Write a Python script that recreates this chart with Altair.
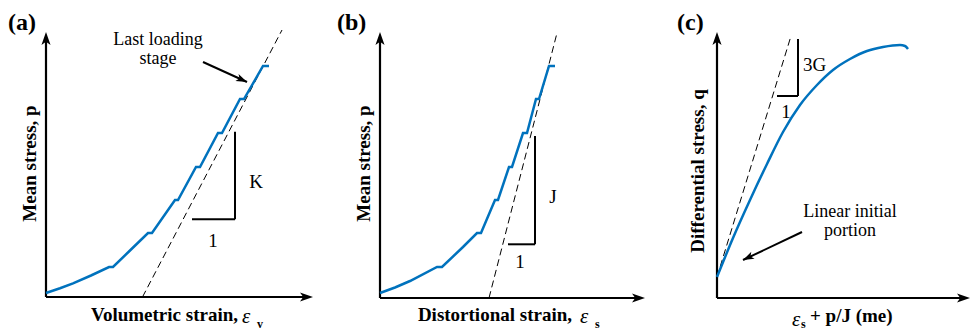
import altair as alt
import pandas as pd

FONT = "Liberation Serif"
BLUE = "#0072BD"
H = 332

# ---------------- Panel (a): mean stress vs volumetric strain ----------------
a_strain = [0, 14, 27, 45, 63, 67, 84, 102, 106, 129, 132, 150, 154, 172, 176, 194, 198, 217, 223]
a_stress = [4, 8.8, 13.7, 21.5, 30, 30, 46.5, 64, 64, 97, 97, 130, 130, 164, 164, 198, 198, 231, 231]
a_tangent_strain = [96.5, 236]
a_tangent_stress = [0, 267]
a_tri_x = [146, 189, 189]
a_tri_y = [77.7, 77.7, 165.3]
a_arrow_x = [157, 201]
a_arrow_y = [235, 215]

# ---------------- Panel (b): mean stress vs distortional strain ----------------
b_strain = [0, 15, 30, 57, 62, 83, 97, 101, 115, 118, 129, 132, 143, 147, 156, 159, 169, 175]
b_stress = [5, 10.5, 17, 31, 31, 51, 65, 65, 98, 98, 131, 131, 165, 165, 199, 199, 232, 232]
b_tangent_strain = [109, 177]
b_tangent_stress = [0, 265]
b_tri_x = [128, 155, 155]
b_tri_y = [53.7, 53.7, 162]

# ---------------- Panel (c): differential stress vs eps_s + p/J ----------------
c_strain = [0, 16, 33, 50, 66, 83, 100, 116, 133, 150, 166, 183, 188, 191]
c_stress = [21, 60, 98, 134, 166, 193, 213, 228, 239, 247, 251, 253, 252, 249]
c_tangent_strain = [0, 74]
c_tangent_stress = [21, 262]
c_tri_x = [60, 81, 81]
c_tri_y = [202, 202, 259]
c_arrow_x = [85, 26]
c_arrow_y = [66, 38]

UP = "M0,0 L0.7,2 L0,1.5 L-0.7,2 Z"
RIGHT = "M0,0 L-2,-0.7 L-1.5,0 L-2,0.7 Z"

STYLES = {
    "tag": dict(fontSize=24, fontWeight="bold", align="left", baseline="middle"),
    "ylab": dict(fontSize=19, fontWeight="bold", angle=270, align="center", baseline="middle"),
    "xlab": dict(fontSize=19, fontWeight="bold", align="right", baseline="alphabetic"),
    "xlab_left": dict(fontSize=19, fontWeight="bold", align="left", baseline="alphabetic"),
    "eps": dict(fontSize=21, fontStyle="italic", align="left", baseline="alphabetic"),
    "sub": dict(fontSize=12, fontWeight="bold", align="left", baseline="bottom"),
    "note": dict(fontSize=18, align="center", baseline="alphabetic", lineBreak="\n", lineHeight=19),
    "slope": dict(fontSize=19, align="center", baseline="middle"),
    "slope_left": dict(fontSize=19, align="left", baseline="middle"),
}

panels = [
    dict(width=320, ox=46, oy=297, xlen=267, ylen=265,
         cx=a_strain, cy=a_stress, interp="linear",
         tx=a_tangent_strain, ty=a_tangent_stress, trx=a_tri_x, try_=a_tri_y,
         arrow=(a_arrow_x, a_arrow_y, 24.4),
         texts=[("(a)", -38, 274.5, "tag"),
                ("Mean stress, p", -16, 133.5, "ylab"),
                ("Volumetric strain,", 192, -24, "xlab"),
                ("ε", 196, -25.5, "eps"),
                ("v", 211, -34, "sub"),
                ("Last loading\nstage", 112, 252, "note"),
                ("K", 210, 115, "slope"),
                ("1", 167, 56, "slope")]),
    dict(width=330, ox=60, oy=298, xlen=265, ylen=266,
         cx=b_strain, cy=b_stress, interp="linear",
         tx=b_tangent_strain, ty=b_tangent_stress, trx=b_tri_x, try_=b_tri_y,
         arrow=None,
         texts=[("(b)", -43, 275.5, "tag"),
                ("Mean stress, p", -16.5, 134.5, "ylab"),
                ("Distortional strain,", 192, -23, "xlab"),
                ("ε", 200, -25, "eps"),
                ("s", 215, -33, "sub"),
                ("J", 173, 101, "slope"),
                ("1", 140, 36.5, "slope")]),
    dict(width=322, ox=67, oy=298, xlen=253, ylen=266,
         cx=c_strain, cy=c_stress, interp="monotone",
         tx=c_tangent_strain, ty=c_tangent_stress, trx=c_tri_x, try_=c_tri_y,
         arrow=(c_arrow_x, c_arrow_y, 154.6),
         texts=[("(c)", -40, 275.5, "tag"),
                ("Differential stress, q", -19, 127, "ylab"),
                ("ε", 75, -28, "eps"),
                ("s", 84, -33, "sub"),
                ("+ p/J (me)", 93, -24, "xlab_left"),
                ("3G", 86, 233, "slope_left"),
                ("1", 69, 186.5, "slope"),
                ("Linear initial\nportion", 133, 81, "note")]),
]


def build_panel(p):
    w, ox, oy = p["width"], p["ox"], p["oy"]
    xs = alt.Scale(domain=[-ox, w - ox], nice=False, zero=False)
    ys = alt.Scale(domain=[oy - H, oy], nice=False, zero=False)

    def X(f):
        return alt.X(f"{f}:Q", scale=xs, axis=None)

    def Y(f):
        return alt.Y(f"{f}:Q", scale=ys, axis=None)

    layers = []
    # axes lines
    ax = pd.DataFrame({"x": [0, 0], "y": [0, 0],
                       "x2": [p["xlen"] - 6, 0], "y2": [0, p["ylen"] - 6]})
    layers.append(alt.Chart(ax).mark_rule(color="black", strokeWidth=2.2).encode(
        x=X("x"), y=Y("y"), x2="x2:Q", y2="y2:Q"))
    # axis arrowheads
    up = pd.DataFrame({"x": [0], "y": [p["ylen"]]})
    layers.append(alt.Chart(up).mark_point(shape=UP, size=169, filled=True, color="black",
                                           opacity=1, strokeWidth=0).encode(x=X("x"), y=Y("y")))
    rt = pd.DataFrame({"x": [p["xlen"]], "y": [0]})
    layers.append(alt.Chart(rt).mark_point(shape=RIGHT, size=169, filled=True, color="black",
                                           opacity=1, strokeWidth=0).encode(x=X("x"), y=Y("y")))
    # tangent (dashed)
    tg = pd.DataFrame({"x": [p["tx"][0]], "y": [p["ty"][0]], "x2": [p["tx"][1]], "y2": [p["ty"][1]]})
    layers.append(alt.Chart(tg).mark_rule(color="black", strokeWidth=1, strokeDash=[7, 4]).encode(
        x=X("x"), y=Y("y"), x2="x2:Q", y2="y2:Q"))
    # slope triangle
    trx, tr_y = p["trx"], p["try_"]
    tri = pd.DataFrame({"x": trx[:2], "y": tr_y[:2], "x2": trx[1:], "y2": tr_y[1:]})
    layers.append(alt.Chart(tri).mark_rule(color="black", strokeWidth=2).encode(
        x=X("x"), y=Y("y"), x2="x2:Q", y2="y2:Q"))
    # curve
    cur = pd.DataFrame({"x": p["cx"], "y": p["cy"], "i": list(range(len(p["cx"])))})
    layers.append(alt.Chart(cur).mark_line(color=BLUE, strokeWidth=2.5, interpolate=p["interp"]).encode(
        x=X("x"), y=Y("y"), order="i:Q"))
    # annotation arrow
    if p["arrow"] is not None:
        axs, ays, ang = p["arrow"]
        ar = pd.DataFrame({"x": [axs[0]], "y": [ays[0]], "x2": [axs[1]], "y2": [ays[1]]})
        layers.append(alt.Chart(ar).mark_rule(color="black", strokeWidth=2).encode(
            x=X("x"), y=Y("y"), x2="x2:Q", y2="y2:Q"))
        hd = pd.DataFrame({"x": [axs[1]], "y": [ays[1]]})
        layers.append(alt.Chart(hd).mark_point(shape=RIGHT, size=121, filled=True, color="black",
                                               opacity=1, strokeWidth=0, angle=ang).encode(
            x=X("x"), y=Y("y")))
    # texts
    for style, kw in STYLES.items():
        items = [t for t in p["texts"] if t[3] == style]
        if not items:
            continue
        df = pd.DataFrame({"t": [t[0] for t in items], "x": [t[1] for t in items],
                           "y": [t[2] for t in items]})
        layers.append(alt.Chart(df).mark_text(font=FONT, color="black", **kw).encode(
            x=X("x"), y=Y("y"), text="t:N"))
    return alt.layer(*layers).properties(width=w, height=H)


chart = alt.hconcat(*[build_panel(p) for p in panels], spacing=0, bounds="flush").properties(
    padding=0, background="white").configure_view(stroke=None)

chart.save("out.html", embed_options={"renderer": "svg", "actions": False})
